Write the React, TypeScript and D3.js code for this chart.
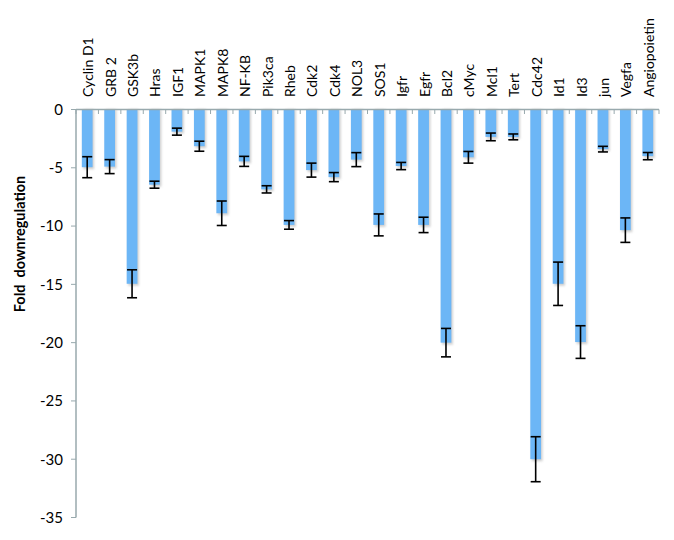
import React from "react";
import * as d3 from "d3";

const categories = ["Cyclin D1","GRB 2","GSK3b","Hras","IGF1","MAPK1","MAPK8","NF-KB","Pik3ca","Rheb","Cdk2","Cdk4","NOL3","SOS1","Igfr","Egfr","Bcl2","cMyc","Mcl1","Tert","Cdc42","Id1","Id3","jun","Vegfa","Angiopoietin"];
const values = [-4.95,-4.9,-14.95,-6.45,-1.9,-3.15,-8.9,-4.45,-6.85,-9.9,-5.2,-5.8,-4.3,-9.9,-4.85,-9.9,-20.0,-4.1,-2.35,-2.35,-30.0,-14.95,-19.95,-3.4,-10.35,-4.0];
const errors = [0.9,0.6,1.2,0.3,0.3,0.43,1.05,0.43,0.31,0.37,0.6,0.39,0.6,0.94,0.31,0.66,1.22,0.5,0.33,0.25,1.93,1.86,1.4,0.24,1.05,0.31];
const yTicks = [0,-5,-10,-15,-20,-25,-30,-35];

export default function App() {
  const W = 674, H = 540;
  const x = d3.scaleBand<string>().domain(categories).range([76, 659]).paddingInner(0.52).paddingOuter(0.26);
  const y = d3.scaleLinear().domain([-35, 0]).range([517.5, 109.5]);
  const axisColor = "#98a9ad";
  const bw = x.bandwidth();
  const step = x.step();
  return (
    <svg width={W} height={H} style={{ position: "absolute", left: 0, top: 0, background: "#fff" }} fontFamily="Lato, 'Open Sans', sans-serif">
      <defs>
        <filter id="blur" x="-50%" y="-10%" width="200%" height="120%">
          <feGaussianBlur stdDeviation="1.2" />
        </filter>
        <filter id="soft" x="-20%" y="-5%" width="140%" height="110%">
          <feGaussianBlur stdDeviation="0.6" />
        </filter>
      </defs>
      {categories.map((c, i) => {
        const x0 = x(c)!;
        const y0 = y(0);
        const y1 = y(values[i]);
        return (
          <g key={c}>
            <rect x={x0 + 1.5} y={y0} width={bw} height={y1 - y0 + 2} fill="#a9a9a9" opacity={0.55} filter="url(#blur)" />
            <rect x={x0} y={y0} width={bw} height={y1 - y0} fill="#6cb6f6" filter="url(#soft)" />
          </g>
        );
      })}
      {categories.map((c, i) => {
        const cx = x(c)! + bw / 2;
        const t = y(values[i] + errors[i]);
        const b = y(values[i] - errors[i]);
        return (
          <g key={"e" + c} stroke="#000" strokeWidth={1.6}>
            <line x1={cx} x2={cx} y1={t} y2={b} />
            <line x1={cx - 5} x2={cx + 5} y1={t} y2={t} />
            <line x1={cx - 5} x2={cx + 5} y1={b} y2={b} />
          </g>
        );
      })}
      <line x1={76} x2={659} y1={y(0)} y2={y(0)} stroke={axisColor} strokeWidth={1.5} />
      {d3.range(categories.length + 1).map((k) => {
        const xx = 76 + k * step;
        return <line key={"ct" + k} x1={xx} x2={xx} y1={y(0)} y2={y(0) + 4.5} stroke={axisColor} strokeWidth={1} />;
      })}
      <line x1={76} x2={76} y1={y(0)} y2={y(-35)} stroke={axisColor} strokeWidth={1.5} />
      {yTicks.map((t) => (
        <g key={"yt" + t}>
          <line x1={71} x2={76} y1={y(t)} y2={y(t)} stroke={axisColor} strokeWidth={1} />
          <text x={63} y={y(t)} dy="0.36em" textAnchor="end" fontSize={15} fill="#000">{t === 0 ? "0" : "-" + Math.abs(t)}</text>
        </g>
      ))}
      {categories.map((c) => {
        const cx = x(c)! + bw / 2;
        return (
          <text key={"l" + c} transform={`translate(${cx + 6},97) rotate(-90)`} fontSize={14} fill="#000">{c}</text>
        );
      })}
      <text transform={`translate(25,244) rotate(-90)`} textAnchor="middle" fontSize={14.5} fontWeight="bold" fill="#000" style={{ whiteSpace: "pre" }}>{"Fold  downregulation"}</text>
    </svg>
  );
}
